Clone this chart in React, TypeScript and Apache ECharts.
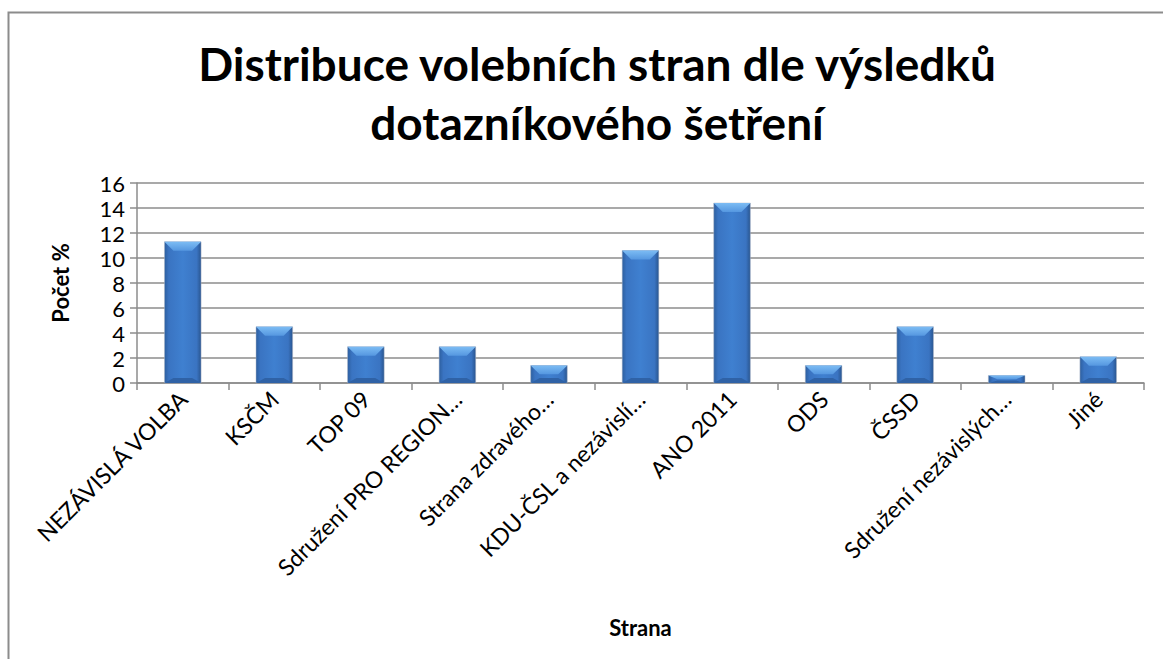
import React, { useEffect, useRef } from "react";
import * as echarts from "echarts";

const categories = [
  "NEZÁVISLÁ VOLBA",
  "KSČM",
  "TOP 09",
  "Sdružení PRO REGION…",
  "Strana zdravého…",
  "KDU-ČSL a nezávislí…",
  "ANO 2011",
  "ODS",
  "ČSSD",
  "Sdružení nezávislých…",
  "Jiné",
];
const values = [11.3, 4.5, 2.9, 2.9, 1.4, 10.6, 14.4, 1.4, 4.5, 0.6, 2.1];
const yTicks = { min: 0, max: 16, interval: 2 };
const titleText = "Distribuce volebních stran dle výsledků\ndotazníkového šetření";
const yName = "Počet %";
const xName = "Strana";

const FONT = "Lato, 'Open Sans', sans-serif";

export default function App() {
  const ref = useRef<HTMLDivElement>(null);
  useEffect(() => {
    if (!ref.current) return;
    const chart = echarts.init(ref.current, undefined, { renderer: "svg" });
    const grey = "#8c8c8c";
    chart.setOption({
      animation: false,
      backgroundColor: "#ffffff",
      title: {
        text: titleText,
        left: 592,
        top: 29,
        textAlign: "center",
        textStyle: {
          fontFamily: FONT,
          fontWeight: "bold",
          fontSize: 46,
          lineHeight: 59,
          color: "#000",
        },
      },
      graphic: [
        {
          type: "rect",
          shape: { x: 8.5, y: 12.5, width: 1300, height: 800 },
          style: { fill: "none", stroke: grey, lineWidth: 2 },
          silent: true,
          z: -1,
        },
      ],
      grid: { left: 137, right: 19, top: 183, bottom: 276, containLabel: false },
      xAxis: {
        type: "category",
        data: categories,
        name: xName,
        nameLocation: "middle",
        nameGap: 233,
        nameTextStyle: { fontFamily: FONT, fontWeight: "bold", fontSize: 22, color: "#000" },
        axisLine: { show: true, lineStyle: { color: grey, width: 1.5 } },
        axisTick: { show: true, alignWithLabel: false, length: 7, lineStyle: { color: grey, width: 1.5 } },
        axisLabel: {
          rotate: 45,
          interval: 0,
          margin: 12,
          fontFamily: FONT,
          fontSize: 23,
          color: "#000",
        },
        splitLine: { show: false },
      },
      yAxis: {
        type: "value",
        min: yTicks.min,
        max: yTicks.max,
        interval: yTicks.interval,
        name: yName,
        nameLocation: "middle",
        nameGap: 66,
        nameRotate: 90,
        nameTextStyle: { fontFamily: FONT, fontWeight: "bold", fontSize: 22, color: "#000" },
        axisLine: { show: true, lineStyle: { color: grey, width: 1.5 } },
        axisTick: { show: true, length: 7, lineStyle: { color: grey, width: 1.5 } },
        axisLabel: { fontFamily: FONT, fontSize: 22, lineHeight: 22, color: "#000", margin: 12 },
        splitLine: { show: true, lineStyle: { color: grey, width: 1.5 } },
      },
      series: [
        {
          type: "custom",
          encode: { x: 0, y: 1 },
          data: values.map((v, i) => [i, v]),
          renderItem: (params: any, api: any) => {
            const xi = api.value(0);
            const v = api.value(1);
            const top = api.coord([xi, v]);
            const base = api.coord([xi, 0]);
            const bw = api.size([1, 0])[0] * 0.4;
            const l = top[0] - bw / 2;
            const r = top[0] + bw / 2;
            const t = top[1];
            const b = base[1];
            const h = b - t;
            const bev = Math.min(9, h / 2);
            const inset = Math.min(9, bw / 3);
            const botBev = Math.min(5, h / 3);
            return {
              type: "group",
              children: [
                {
                  type: "rect",
                  shape: { x: l, y: t, width: bw, height: h },
                  style: {
                    fill: new echarts.graphic.LinearGradient(0, 0, 1, 0, [
                      { offset: 0, color: "#2d5f9f" },
                      { offset: 0.12, color: "#3a74c2" },
                      { offset: 0.5, color: "#3f80d0" },
                      { offset: 0.88, color: "#3a74c2" },
                      { offset: 1, color: "#29558f" },
                    ]),
                    stroke: "#b0b8c8",
                    lineWidth: 0.5,
                  },
                },
                {
                  type: "polygon",
                  shape: {
                    points: [
                      [l, t],
                      [r, t],
                      [r - inset, t + bev],
                      [l + inset, t + bev],
                    ],
                  },
                  style: {
                    fill: new echarts.graphic.LinearGradient(0, 0, 0, 1, [
                      { offset: 0, color: "#7cbcf4" },
                      { offset: 1, color: "#5597e0" },
                    ]),
                  },
                },
                {
                  type: "polygon",
                  shape: {
                    points: [
                      [l, b],
                      [r, b],
                      [r - inset, b - botBev],
                      [l + inset, b - botBev],
                    ],
                  },
                  style: { fill: "#2f62a6" },
                },
              ],
            };
          },
        },
      ],
    });
    return () => chart.dispose();
  }, []);
  return (
    <div
      ref={ref}
      style={{ position: "absolute", left: 0, top: 0, width: 1163, height: 659 }}
    />
  );
}
